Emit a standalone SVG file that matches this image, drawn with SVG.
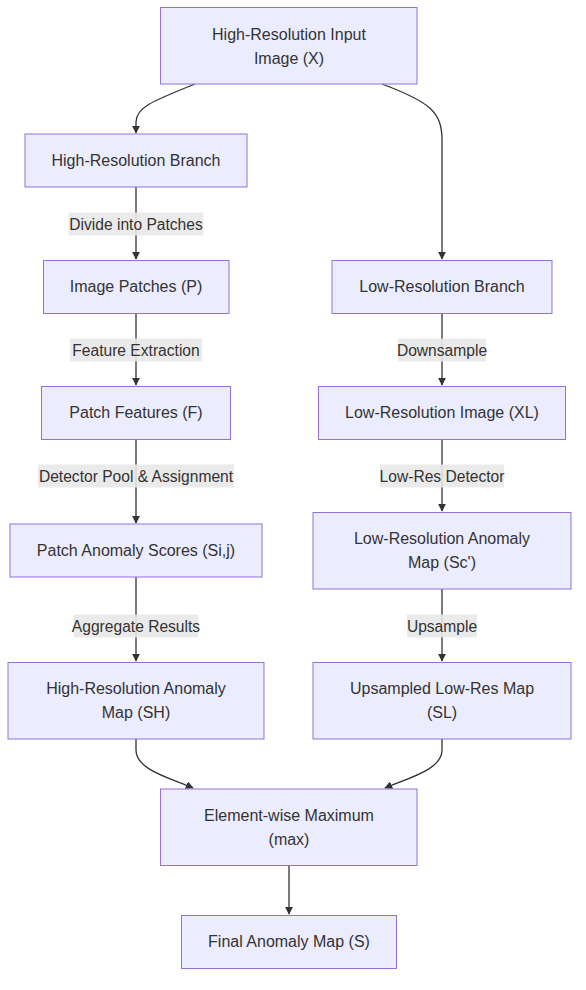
<svg xmlns="http://www.w3.org/2000/svg" width="586" height="990" viewBox="0 0 586 990">
<style>
.node rect{fill:#ECECFF;stroke:#9370DB;stroke-width:1px}
text{font-family:"Liberation Sans",Arial,sans-serif;font-size:16px;fill:#333;text-anchor:middle}
.lbl text{font-size:15.6px}
.edge{fill:none;stroke:#333;stroke-width:1.3px}
.lbl rect{fill:#e8e8e8;opacity:0.9}
</style>
<defs>
<marker id="arr" viewBox="0 0 10 10" refX="9" refY="5" markerWidth="8" markerHeight="8" markerUnits="userSpaceOnUse" orient="auto">
<path d="M0,0 L10,5 L0,10 z" fill="#333"/>
</marker>
</defs>
<rect width="586" height="990" fill="#fff"/>
<g id="edges">
<path class="edge" d="M195,84 C150,102 136,108 136,122 L136,133" marker-end="url(#arr)"/>
<path class="edge" d="M382,84 C430,102 442,112 442,140 L442,259" marker-end="url(#arr)"/>
<path class="edge" d="M136,187 L136,259" marker-end="url(#arr)"/>
<path class="edge" d="M136,313 L136,385" marker-end="url(#arr)"/>
<path class="edge" d="M136,439 L136,523" marker-end="url(#arr)"/>
<path class="edge" d="M136,577 L136,661" marker-end="url(#arr)"/>
<path class="edge" d="M442,313 L442,385" marker-end="url(#arr)"/>
<path class="edge" d="M442,439 L442,511" marker-end="url(#arr)"/>
<path class="edge" d="M442,589 L442,661" marker-end="url(#arr)"/>
<path class="edge" d="M136,739 L136,750 C136,770 170,778 193,788" marker-end="url(#arr)"/>
<path class="edge" d="M442,739 L442,750 C442,770 408,778 385,788" marker-end="url(#arr)"/>
<path class="edge" d="M289,865 L289,914" marker-end="url(#arr)"/>
<g class="lbl"><rect x="68.5" y="212.5" width="135" height="23"/><text x="136" y="229.5">Divide into Patches</text></g>
<g class="lbl"><rect x="70" y="338.5" width="132" height="23"/><text x="136" y="355.5">Feature Extraction</text></g>
<g class="lbl"><rect x="38" y="464.5" width="196" height="23"/><text x="136" y="481.5">Detector Pool &amp; Assignment</text></g>
<g class="lbl"><rect x="73.5" y="614.5" width="125" height="23"/><text x="136" y="631.5">Aggregate Results</text></g>
<g class="lbl"><rect x="398" y="338.5" width="88" height="23"/><text x="442" y="355.5">Downsample</text></g>
<g class="lbl"><rect x="380" y="464.5" width="124" height="23"/><text x="442" y="481.5">Low-Res Detector</text></g>
<g class="lbl"><rect x="407" y="614.5" width="70" height="23"/><text x="442" y="631.5">Upsample</text></g>
</g>
<g id="n-input" class="node"><rect x="160.5" y="7.5" width="256.5" height="76.5"/><text x="289" y="39.5">High-Resolution Input</text><text x="289" y="63.5">Image (X)</text></g>
<g id="n-hrbranch" class="node"><rect x="25" y="134" width="222" height="53"/><text x="136" y="166">High-Resolution Branch</text></g>
<g id="n-patches" class="node"><rect x="43.5" y="260.5" width="185.5" height="53"/><text x="136" y="292">Image Patches (P)</text></g>
<g id="n-features" class="node"><rect x="41.5" y="386.5" width="189" height="53"/><text x="136" y="418">Patch Features (F)</text></g>
<g id="n-scores" class="node"><rect x="10" y="524" width="252" height="53"/><text x="136" y="556">Patch Anomaly Scores (Si,j)</text></g>
<g id="n-hrmap" class="node"><rect x="8" y="662.5" width="256" height="76.5"/><text x="136" y="694">High-Resolution Anomaly</text><text x="136" y="718">Map (SH)</text></g>
<g id="n-lrbranch" class="node"><rect x="332" y="260.5" width="220" height="53"/><text x="442" y="292">Low-Resolution Branch</text></g>
<g id="n-lrimage" class="node"><rect x="318.5" y="386.5" width="247" height="53"/><text x="442" y="418">Low-Resolution Image (XL)</text></g>
<g id="n-lrmap" class="node"><rect x="313" y="512.5" width="258" height="76.5"/><text x="442" y="544">Low-Resolution Anomaly</text><text x="442" y="568">Map (Sc')</text></g>
<g id="n-upmap" class="node"><rect x="313" y="662.5" width="258" height="76.5"/><text x="442" y="694">Upsampled Low-Res Map</text><text x="442" y="718">(SL)</text></g>
<g id="n-max" class="node"><rect x="160.5" y="789" width="256.5" height="76.5"/><text x="289" y="821">Element-wise Maximum</text><text x="289" y="845">(max)</text></g>
<g id="n-final" class="node"><rect x="181.5" y="915.5" width="215" height="53"/><text x="289" y="947">Final Anomaly Map (S)</text></g>
</svg>
